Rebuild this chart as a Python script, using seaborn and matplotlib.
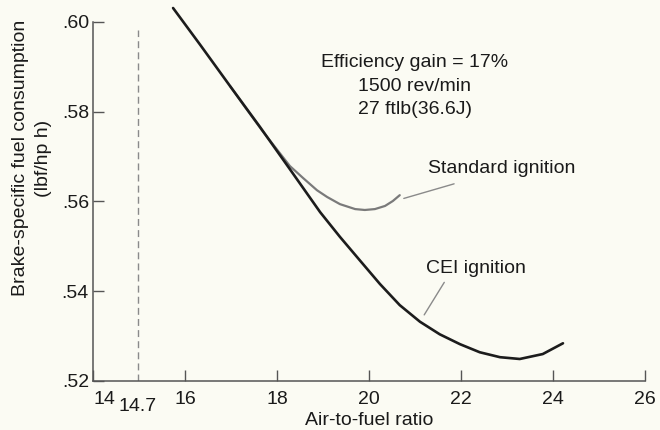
import numpy as np
import pandas as pd
import matplotlib
matplotlib.use("Agg")
import matplotlib.pyplot as plt
import seaborn as sns

# curve values
cei_afr = [15.74, 16.33, 16.98, 17.63, 18.28, 18.94, 19.37, 19.80, 20.24,
           20.67, 21.11, 21.54, 21.98, 22.41, 22.85, 23.28, 23.78, 24.22]
cei_bsfc = [0.6031, 0.5949, 0.5857, 0.5766, 0.5672, 0.5576, 0.5521, 0.5469, 0.5416,
            0.5369, 0.5332, 0.5304, 0.5282, 0.5264, 0.5253, 0.5249, 0.5260, 0.5284]

std_afr = [16.98, 17.30, 17.67, 17.96, 18.28, 18.57, 18.87, 19.09, 19.37,
           19.70, 19.91, 20.13, 20.35, 20.52, 20.67]
std_bsfc = [0.5857, 0.5811, 0.5759, 0.5721, 0.5679, 0.5652, 0.5625, 0.5610, 0.5594,
            0.5583, 0.5581, 0.5583, 0.5590, 0.5601, 0.5614]

x_ticks = [14, 16, 18, 20, 22, 24, 26]
y_ticks = [0.52, 0.54, 0.56, 0.58, 0.60]
y_tick_labels = ['.52', '.54', '.56', '.58', '.60']

stoich_pos = 14.97
stoich_label = '14.7'

info_text = 'Efficiency gain = 17%\n1500 rev/min\n27 ftlb(36.6J)'

df = pd.concat([
    pd.DataFrame({'afr': std_afr, 'bsfc': std_bsfc, 'ignition': 'Standard ignition'}),
    pd.DataFrame({'afr': cei_afr, 'bsfc': cei_bsfc, 'ignition': 'CEI ignition'}),
])

sns.set_theme(style='ticks')
plt.rcParams['font.family'] = ['Liberation Sans', 'DejaVu Sans']

bg = '#fbfbf3'
fig = plt.figure(figsize=(6.6, 4.3), dpi=100, facecolor=bg)
ax = fig.add_axes([0.141, 0.114, 0.836, 0.835])
ax.set_facecolor(bg)

sns.lineplot(data=df, x='afr', y='bsfc', hue='ignition', sort=False,
             palette={'Standard ignition': '#7a7a7a', 'CEI ignition': '#1c1c1c'},
             size='ignition', sizes={'Standard ignition': 1.6, 'CEI ignition': 1.9},
             legend=False, ax=ax)
for ln in ax.lines:
    ln.set_clip_on(False)
    ln.set_solid_capstyle('round')
    ln.set_solid_joinstyle('round')

# stoichiometric marker
ax.plot([stoich_pos, stoich_pos], [0.52, 0.5982], ls=(0, (5, 3)), color='#8a8a8a', lw=1.0)

ax.set_xlim(14, 26)
ax.set_ylim(0.52, 0.60)
ax.set_xticks(x_ticks)
ax.set_xticklabels([str(t) for t in x_ticks])
ax.get_xticklabels()[0].set_horizontalalignment('left')
ax.set_yticks(y_ticks)
ax.set_yticklabels(y_tick_labels)
ax.set_xticks([stoich_pos], minor=True)
ax.set_xticklabels([stoich_label], minor=True)
ax.tick_params(axis='x', which='minor', length=0, pad=12, labelsize=14, colors='#1a1a1a')
ax.tick_params(which='major', direction='in', length=8, width=1.0, color='#555555',
               labelsize=14, labelcolor='#1a1a1a', pad=3)
ax.tick_params(axis='x', which='major', pad=7)

sns.despine(ax=ax)
for s in ['left', 'bottom']:
    ax.spines[s].set_color('#555555')
    ax.spines[s].set_linewidth(1.1)

ax.set_xlabel('Air-to-fuel ratio', fontsize=14, color='#1a1a1a', labelpad=-2)
ax.set_ylabel('Brake-specific fuel consumption\n(lbf/hp h)', fontsize=14,
              color='#1a1a1a', linespacing=1.45)
ax.yaxis.set_label_coords(-0.075, 0.62)

ax.text(21.0, 0.5857, info_text, ha='center', va='center', fontsize=14,
        color='#1a1a1a', linespacing=1.5)

ax.text(22.89, 0.5674, 'Standard ignition', ha='center', va='center', fontsize=14, color='#1a1a1a')
ax.annotate('', xy=(20.70, 0.5605), xytext=(21.91, 0.5641),
            arrowprops=dict(arrowstyle='-', color='#8a8a8a', lw=1.0))

ax.text(22.33, 0.5451, 'CEI ignition', ha='center', va='center', fontsize=14, color='#1a1a1a')
ax.annotate('', xy=(21.17, 0.5342), xytext=(21.67, 0.5425),
            arrowprops=dict(arrowstyle='-', color='#8a8a8a', lw=1.0))

fig.savefig('out.png', dpi=100, facecolor=bg)
